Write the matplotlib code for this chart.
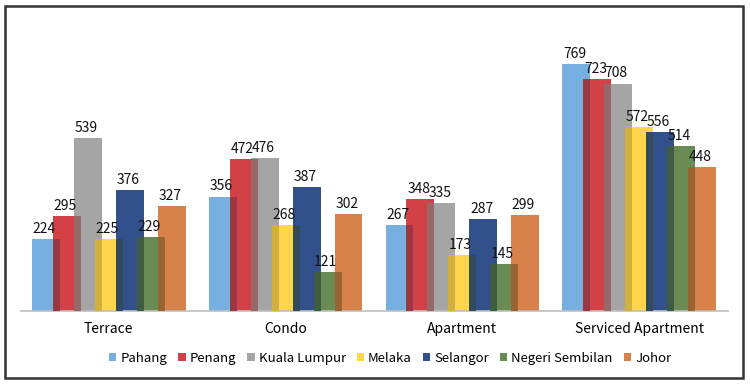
import numpy as np
import matplotlib.pyplot as plt
from matplotlib.patches import Rectangle
from matplotlib.colors import to_rgb

categories = ["Terrace", "Condo", "Apartment", "Serviced Apartment"]
states = ["Pahang", "Penang", "Kuala Lumpur", "Melaka", "Selangor", "Negeri Sembilan", "Johor"]
pahang = [224, 356, 267, 769]
penang = [295, 472, 348, 723]
kuala_lumpur = [539, 476, 335, 708]
melaka = [225, 268, 173, 572]
selangor = [376, 387, 287, 556]
negeri_sembilan = [229, 121, 145, 514]
johor = [327, 302, 299, 448]
series = [pahang, penang, kuala_lumpur, melaka, selangor, negeri_sembilan, johor]
colors = ["#78AFE1", "#D24146", "#A5A5A5", "#FFD64B", "#32508C", "#698C55", "#D7824B"]

plt.rcParams['font.family'] = ['Noto Sans CJK SC', 'DejaVu Sans']

fig = plt.figure(figsize=(7.5, 3.87), dpi=100)
ax = fig.add_axes([20.5 / 750, 76 / 387, 707 / 750, 289 / 387])

x = np.arange(len(categories))
step = 0.1186
width = 0.158
for i, (name, vals, c) in enumerate(zip(states, series, colors)):
    pos = x + (i - 3) * step
    ax.bar(pos, vals, width=width, color=c, label=name, zorder=2)
    if i > 0:
        # darker strip where this bar covers the previous one
        top = np.array(to_rgb(c))
        below = np.array(to_rgb(colors[i - 1]))
        dark = top * (0.5 + 0.5 * below)
        ov_left = pos - width / 2
        ov_right = pos - step + width / 2
        ov_h = np.minimum(vals, series[i - 1])
        ax.bar((ov_left + ov_right) / 2, ov_h, width=ov_right - ov_left, color=dark, zorder=3)
    for p, v in zip(pos, vals):
        ax.text(p - 0.01, v + 10, str(v), ha="center", va="bottom", fontsize=10,
                color="#111111")

ax.set_xlim(-0.5, 3.5)
ax.set_ylim(0, 900)
ax.set_xticks(x)
ax.set_xticklabels(categories, fontsize=10)
ax.tick_params(axis="x", length=0, pad=8)
ax.set_yticks([])
for s in ["top", "right", "left"]:
    ax.spines[s].set_visible(False)
ax.spines["bottom"].set_color("#BFBFBF")
ax.spines["bottom"].set_linewidth(1.2)

ax.legend(loc="upper center", bbox_to_anchor=(0.523, -0.1), ncol=7, frameon=False,
          fontsize=9.5, handlelength=0.55, handleheight=0.55, handletextpad=0.3,
          columnspacing=0.85)

fig.patches.append(Rectangle((5 / 750, 9 / 387), 738 / 750, 372 / 387, transform=fig.transFigure,
                             fill=False, edgecolor="#333333", linewidth=1.8))

fig.savefig("out.png", dpi=100)
